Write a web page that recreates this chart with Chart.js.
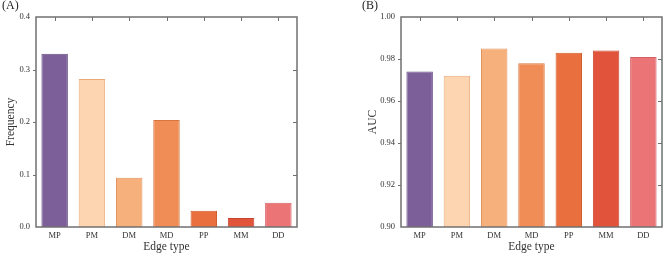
<!DOCTYPE html>
<html>
<head>
<meta charset="utf-8">
<script src="https://cdn.jsdelivr.net/npm/chart.js@4.4.1/dist/chart.umd.min.js"></script>
<style>
  body { margin: 0; background: #fff; }
  #wrap { position: relative; width: 667px; height: 254px; font-family: "Liberation Serif", serif; }
  canvas { position: absolute; top: 0; }
  .tag { position: absolute; top: -2px; font-size: 12px; color: #222; }
</style>
</head>
<body>
<div id="wrap">
  <canvas id="chartA" style="left:0px" width="334" height="254"></canvas>
  <canvas id="chartB" style="left:334px" width="333" height="254"></canvas>
  <div class="tag" style="left:2px">(A)</div>
  <div class="tag" style="left:362px">(B)</div>
</div>
<script>
// edge types and values
const edgeTypes = ['MP', 'PM', 'DM', 'MD', 'PP', 'MM', 'DD'];
const frequency = [0.330, 0.282, 0.094, 0.204, 0.031, 0.017, 0.046];
const auc = [0.974, 0.972, 0.985, 0.978, 0.983, 0.984, 0.981];
const freqTicks = [0.0, 0.1, 0.2, 0.3, 0.4];
const aucTicks = [0.90, 0.92, 0.94, 0.96, 0.98, 1.00];

const fillColors = ['#7c5f99', '#fdd6b1', '#f6b07c', '#f08c56', '#e9703e', '#e1543b', '#eb7476'];
const lineColors = ['#6a4e86', '#e9a878', '#e3935e', '#d9743f', '#d05d2c', '#c8452e', '#d35f62'];

const axisColor = '#707070';
const textColor = '#333';
const serif = '"Liberation Serif", "Times New Roman", serif';

// frame + tick marks: top ticks inward at categories, right ticks inward, left ticks outward
const framePlugin = {
    id: 'frame',
    afterDraw(chart) {
        const { ctx, chartArea: a, scales } = chart;
        ctx.save();
        ctx.strokeStyle = axisColor;
        ctx.lineWidth = 1.5;
        ctx.strokeRect(a.left, a.top, a.right - a.left, a.bottom - a.top);
        ctx.lineWidth = 1;
        ctx.beginPath();
        edgeTypes.forEach((c, i) => {
            const x = Math.round(scales.x.getPixelForValue(i)) + 0.5;
            ctx.moveTo(x, a.top);
            ctx.lineTo(x, a.top + 4);
        });
        scales.y.ticks.forEach(t => {
            const y = Math.round(scales.y.getPixelForValue(t.value)) + 0.5;
            if (y > a.top + 1 && y < a.bottom - 1) {
                ctx.moveTo(a.right, y);
                ctx.lineTo(a.right - 4, y);
                ctx.moveTo(a.left, y);
                ctx.lineTo(a.left - 3, y);
            }
        });
        ctx.stroke();
        ctx.restore();
    }
};

function makeChart(id, values, ticksList, yLabel, yWidth, padRight, titlePad, decimals) {
    const ctx = document.getElementById(id).getContext('2d');
    return new Chart(ctx, {
        type: 'bar',
        data: {
            labels: edgeTypes,
            datasets: [{
                data: values,
                backgroundColor: fillColors,
                borderColor: lineColors,
                borderWidth: 1,
                categoryPercentage: 1.0,
                barPercentage: 0.71
            }]
        },
        options: {
            responsive: false,
            animation: false,
            layout: { padding: { top: 17, right: padRight, left: 0, bottom: 0 } },
            plugins: { legend: { display: false }, tooltip: { enabled: false } },
            scales: {
                x: {
                    offset: true,
                    grid: { display: false, drawTicks: false },
                    border: { display: false },
                    ticks: { color: textColor, font: { family: serif, size: 8.5 }, padding: 4, maxRotation: 0 },
                    title: { display: true, text: 'Edge type', color: textColor,
                             font: { family: serif, size: 11.5 }, padding: { top: 0, bottom: 0 } },
                    afterFit: (s) => { s.height = 27; }
                },
                y: {
                    min: ticksList[0],
                    max: ticksList[ticksList.length - 1],
                    afterBuildTicks: (s) => { s.ticks = ticksList.map(v => ({ value: v })); },
                    grid: { display: false, drawTicks: false },
                    border: { display: false },
                    ticks: { color: textColor, font: { family: serif, size: 8.5 }, padding: 6,
                             callback: (v) => Number(v).toFixed(decimals) },
                    title: { display: true, text: yLabel, color: textColor,
                             font: { family: serif, size: 11.5 }, padding: { top: titlePad, bottom: 0 } },
                    afterFit: (s) => { s.width = yWidth; }
                }
            }
        },
        plugins: [framePlugin]
    });
}

makeChart('chartA', frequency, freqTicks, 'Frequency', 36, 37, 4, 1);
makeChart('chartB', auc, aucTicks, 'AUC', 67, 5, 32, 2);
</script>
</body>
</html>
